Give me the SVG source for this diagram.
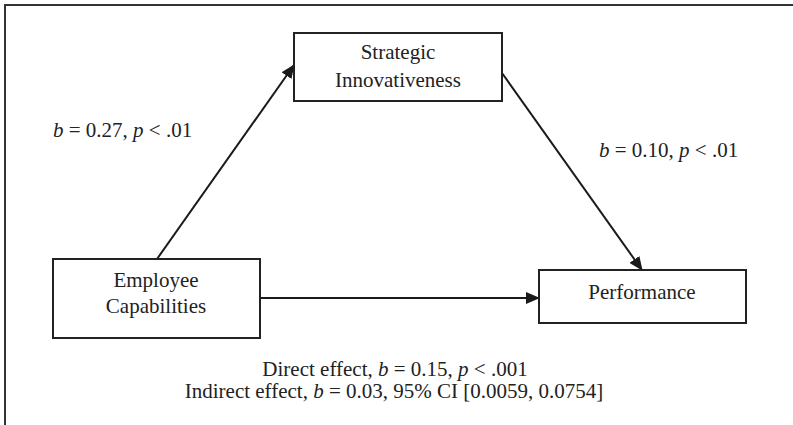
<svg xmlns="http://www.w3.org/2000/svg" width="793" height="425" viewBox="0 0 793 425">
<style>
.box{fill:#fff;stroke:#222;stroke-width:2}
.t{font-family:"Liberation Serif","Times New Roman",serif;font-size:21px;fill:#222;text-anchor:middle}
.l{font-family:"Liberation Serif","Times New Roman",serif;font-size:21px;fill:#222}
.c{stroke:#1a1a1a;stroke-width:2;fill:none;marker-end:url(#ah)}
</style>
<defs>
<marker id="ah" markerWidth="14" markerHeight="12" refX="13" refY="6" orient="auto" markerUnits="userSpaceOnUse">
<path d="M0,0 L14,6 L0,12 Z" fill="#1a1a1a"/>
</marker>
</defs>
<path d="M5,430 L5,5 L800,5" fill="none" stroke="#333" stroke-width="2"/>
<g id="connectors">
<line class="c" x1="157" y1="259" x2="294" y2="65"/>
<line class="c" x1="502" y1="73" x2="642" y2="270"/>
<line class="c" x1="260" y1="298" x2="539" y2="298"/>
</g>
<g id="strategic">
<rect class="box" x="294" y="33" width="208" height="68"/>
<text class="t" x="398" y="59">Strategic</text>
<text class="t" x="398" y="87">Innovativeness</text>
</g>
<g id="employee">
<rect class="box" x="53" y="259" width="207" height="79"/>
<text class="t" x="156" y="287">Employee</text>
<text class="t" x="156" y="313">Capabilities</text>
</g>
<g id="performance">
<rect class="box" x="539" y="270" width="207" height="53"/>
<text class="t" x="642" y="299">Performance</text>
</g>
<g id="labels">
<text class="l" x="53" y="137"><tspan font-style="italic">b</tspan> = 0.27, <tspan font-style="italic">p</tspan> &lt; .01</text>
<text class="l" x="599" y="157"><tspan font-style="italic">b</tspan> = 0.10, <tspan font-style="italic">p</tspan> &lt; .01</text>
<text class="t" x="395" y="376">Direct effect, <tspan font-style="italic">b</tspan> = 0.15, <tspan font-style="italic">p</tspan> &lt; .001</text>
<text class="t" x="394" y="398">Indirect effect, <tspan font-style="italic">b</tspan> = 0.03, 95% CI [0.0059, 0.0754]</text>
</g>
</svg>
